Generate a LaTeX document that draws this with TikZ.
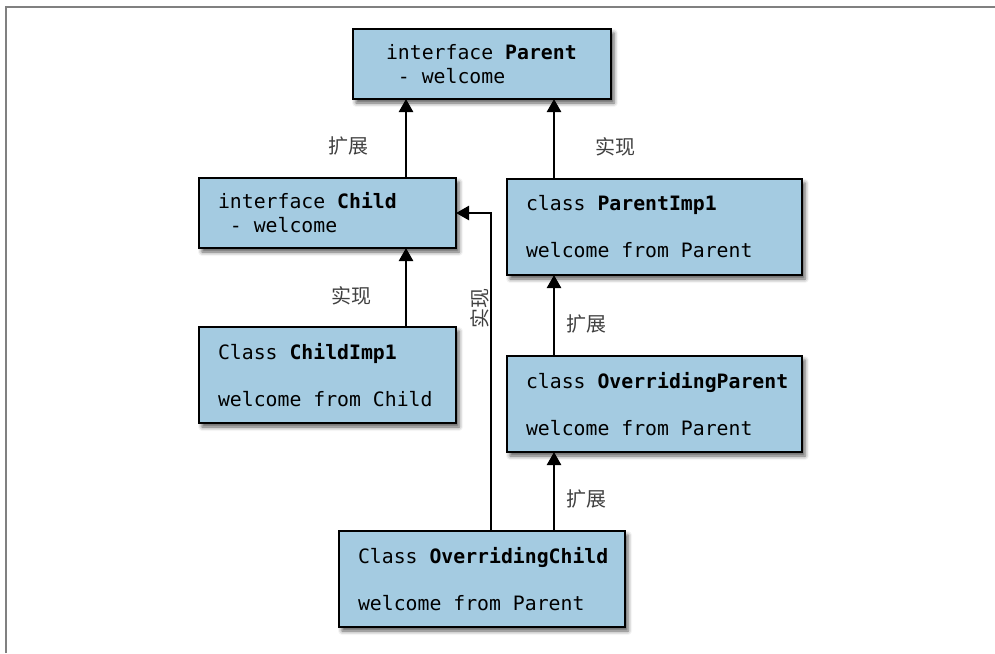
\documentclass[tikz,border=0pt]{standalone}
\usepackage{fontspec}
\setmonofont{DejaVu Sans Mono}
\newfontfamily\cjk{Noto Sans CJK SC}
\usetikzlibrary{positioning,arrows.meta,shadows.blur}

\definecolor{boxblue}{HTML}{A4CBE1}
\tikzset{
	classbox/.style={draw, line width=2.5pt, fill=boxblue, anchor=north west,
		outer sep=0pt, inner xsep=19pt, inner ysep=0pt, minimum height=96pt,
		font=\ttfamily\fontsize{19.8}{24}\selectfont,
		execute at begin node={\spaceskip=0.602em\xspaceskip=0.602em\relax},
		blur shadow={shadow xshift=3pt, shadow yshift=-4pt, shadow blur radius=4pt, shadow opacity=65}},
	relation/.style={line width=2.5pt, -{Triangle[length=13pt,width=14pt]}},
	rellabel/.style={font=\cjk\fontsize{20}{20}\selectfont, text=black!75},
}

\begin{document}
\begin{tikzpicture}[x=1pt, y=-1pt]
	\useasboundingbox (0,0) rectangle (995,653);
	\draw[black!50, line width=1.5pt] (6,653) -- (6,7) -- (995,7);

	% classes and interfaces
	\node[classbox, minimum height=70pt, text width=192pt, inner xsep=33pt] (parent) at (353,29)
		{interface~\textbf{Parent}\\\mbox{}\ - welcome};
	\node[classbox, minimum height=70pt, text width=219pt] (child) at (199,178)
		{interface~\textbf{Child}\\\mbox{}\ - welcome};
	\node[classbox, text width=257pt] (parentimp) at (507,179)
		{class~\textbf{ParentImp1}\\[23pt]welcome from Parent};
	\node[classbox, text width=219pt, below=79pt of child.south west, anchor=north west] (childimp)
		{Class~\textbf{ChildImp1}\\[23pt]welcome from Child};
	\node[classbox, text width=257pt, below=81pt of parentimp.south west, anchor=north west] (overparent)
		{class~\textbf{OverridingParent}\\[23pt]welcome from Parent};
	\node[classbox, text width=248pt] (overchild) at (339,531)
		{Class~\textbf{OverridingChild}\\[23pt]welcome from Parent};

	% columns of the connectors
	\coordinate (xa) at (406,0);
	\coordinate (xb) at (554,0);
	\coordinate (xc) at (491,0);

	\draw[relation] (child.north -| xa) -- node[rellabel, pos=0.4, left=33pt] {扩展} (parent.south -| xa);
	\draw[relation] (parentimp.north -| xb) -- node[rellabel, pos=0.4, right=37pt] {实现} (parent.south -| xb);
	\draw[relation] (childimp.north -| xa) -- node[rellabel, pos=0.4, left=30pt] {实现} (child.south -| xa);
	\draw[relation] (overparent.north -| xb) -- node[rellabel, pos=0.4, right=8pt] {扩展} (parentimp.south -| xb);
	\draw[relation] (overchild.north -| xb) -- node[rellabel, pos=0.4, right=8pt] {扩展} (overparent.south -| xb);
	\draw[relation] (overchild.north -| xc) |- node[rellabel, pos=0.35, rotate=90, anchor=south, inner sep=1pt] {实现} (child.east);
\end{tikzpicture}
\end{document}
